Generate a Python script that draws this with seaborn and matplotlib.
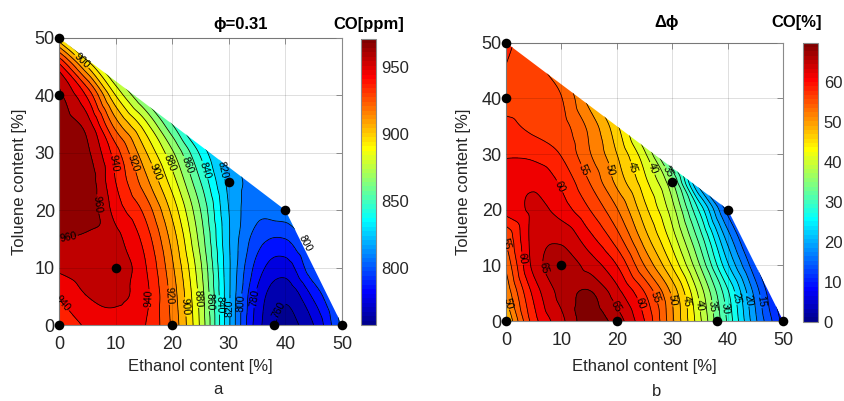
import numpy as np
import matplotlib
matplotlib.use("Agg")
import matplotlib.pyplot as plt
import matplotlib.tri as mtri
from matplotlib.patches import Polygon
from matplotlib.colors import Normalize, ListedColormap
from matplotlib.cm import ScalarMappable
import seaborn as sns

# ---------------------------------------------------------------- data
# response surfaces sampled on a 5 % grid (rows: toluene, cols: ethanol)
ethanol_grid = [0, 5, 10, 15, 20, 25, 30, 35, 40, 45, 50]
toluene_grid = [0, 5, 10, 15, 20, 25, 30, 35, 40, 45, 50]

# CO emission [ppm] at phi = 0.31
co_ppm = [
    [928, 942, 946, 941, 918, 878, 822, 775, 757, 770, 803],
    [941, 950, 952, 944, 916, 876, 822, 778, 762, 782, 808],
    [952, 955, 957, 942, 912, 872, 822, 786, 775, 798, 810],
    [960, 958, 953, 937, 906, 866, 821, 795, 790, 806, 810],
    [965, 966, 946, 928, 897, 860, 820, 803, 805, 808, 810],
    [968, 966, 940, 915, 885, 850, 817, 807, 806, 807, 808],
    [969, 962, 935, 903, 872, 838, 812, 807, 806, 806, 806],
    [967, 955, 915, 885, 850, 818, 805, 804, 804, 804, 805],
    [963, 938, 890, 857, 825, 805, 800, 802, 803, 803, 804],
    [945, 900, 860, 830, 805, 795, 795, 800, 802, 802, 803],
    [893, 850, 830, 805, 790, 785, 790, 795, 800, 800, 802],
]

# CO change [%] over the delta-phi sweep
co_pct = [
    [47.0, 58.8, 64.3, 68.8, 66.3, 60.0, 50.5, 40.5, 29.5, 18.0, 9.0],
    [50.5, 60.7, 65.8, 67.8, 63.5, 57.6, 49.4, 39.0, 28.0, 16.5, 7.0],
    [53.0, 63.3, 66.3, 64.0, 60.0, 52.4, 44.7, 34.9, 22.9, 13.0, 6.0],
    [55.5, 63.5, 64.4, 60.8, 56.0, 48.6, 41.2, 31.2, 18.8, 10.0, 5.0],
    [61.0, 63.0, 61.3, 57.6, 52.7, 45.8, 38.5, 26.7, 14.0, 8.0, 5.0],
    [61.3, 62.0, 59.5, 55.0, 49.3, 43.3, 35.2, 18.0, 10.0, 6.0, 5.0],
    [59.7, 59.3, 57.3, 52.8, 47.5, 40.5, 28.0, 13.0, 7.0, 5.0, 5.0],
    [58.2, 56.8, 56.0, 51.8, 45.5, 36.0, 22.0, 9.0, 5.0, 5.0, 5.0],
    [56.6, 56.0, 55.1, 49.0, 42.0, 33.0, 18.0, 7.0, 5.0, 5.0, 5.0],
    [57.4, 55.6, 53.5, 47.0, 40.0, 30.0, 15.0, 6.0, 5.0, 5.0, 5.0],
    [58.2, 55.5, 52.0, 45.0, 38.0, 28.0, 12.0, 5.0, 5.0, 5.0, 5.0],
]

# feasible blend region
domain_ethanol = [0, 0, 40, 50]
domain_toluene = [0, 50, 20, 0]

# measured blends
sample_ethanol = [0, 0, 0, 10, 20, 30, 40, 38, 50]
sample_toluene = [50, 40, 0, 10, 0, 25, 20, 0, 0]

# contour label anchors (ethanol, toluene)
ppm_label_pos = [(3.7, 45.6), (9.9, 28.2), (13.1, 28.2), (16.7, 26.5), (19.3, 28.2),
                 (22.6, 27.9), (25.8, 27.0), (28.7, 27.0), (7.8, 21.2), (2.3, 12.7),
                 (1.4, 4.4), (15.7, 4.6), (19.5, 5.2), (22.8, 3.2), (24.9, 4.7),
                 (26.7, 4.1), (28.4, 3.5), (30.2, 3.0), (32.3, 3.8), (34.6, 4.7),
                 (37.8, 3.0), (42.0, 13.4)]
pct_label_pos = [(13.9, 27.1), (18.4, 27.1), (22.7, 27.5), (26.6, 27.5), (29.6, 27.0),
                 (9.7, 24.2), (0.4, 14.5), (3.1, 11.3), (6.4, 9.5), (0.4, 3.2),
                 (20.4, 2.9), (24.5, 3.2), (27.2, 4.4), (29.9, 3.8), (32.5, 3.5),
                 (35.0, 2.9), (37.5, 2.6), (39.8, 2.3), (41.3, 4.1), (43.6, 3.8),
                 (45.8, 3.5)]


# ---------------------------------------------------------------- colormap
def classic_jet(n=64):
    """Piecewise-linear jet with n entries (blue -> cyan -> yellow -> red)."""
    m = int(np.ceil(n / 4))
    u = np.concatenate([np.arange(1, m + 1) / m, np.ones(m - 1), np.arange(m, 0, -1) / m])
    g = int(np.ceil(m / 2)) - int(n % 4 == 1) + np.arange(1, len(u) + 1)
    r = g + m
    b = g - m
    g = g[g <= n]
    r = r[r <= n]
    b = b[b >= 1]
    rgb = np.zeros((n, 3))
    rgb[r - 1, 0] = u[:len(r)]
    rgb[g - 1, 1] = u[:len(g)]
    rgb[b - 1, 2] = u[len(u) - len(b):]
    return ListedColormap(rgb, name="classic_jet")


# ---------------------------------------------------------------- style
sns.set_style("white")
plt.rcParams["font.family"] = ["Liberation Sans", "DejaVu Sans"]
plt.rcParams["axes.unicode_minus"] = False

cmap = classic_jet(64)
frame_col = "#8a8a8a"

fig = plt.figure(figsize=(8.45, 4.01), dpi=100)


def smooth_surface(values):
    ex, to = np.meshgrid(ethanol_grid, toluene_grid)
    tri = mtri.Triangulation(ex.ravel().astype(float), to.ravel().astype(float))
    z = np.asarray(values, dtype=float).ravel()
    interp = mtri.CubicTriInterpolator(tri, z, kind="geom")
    refiner = mtri.UniformTriRefiner(tri)
    return refiner.refine_field(z, triinterpolator=interp, subdiv=4)


def draw_panel(ax, cax, values, norm, fill_levels, line_levels, label_levels,
               label_pos, cbar_ticks):
    rtri, rz = smooth_surface(values)
    clip = Polygon(np.column_stack([domain_ethanol, domain_toluene]), closed=True,
                   facecolor="none", edgecolor="none", transform=ax.transData)
    ax.add_patch(clip)

    plain_levels = [v for v in line_levels
                    if not np.any(np.isclose(v, label_levels))]
    cf = ax.tricontourf(rtri, rz, levels=fill_levels, cmap=cmap, norm=norm, zorder=1)
    cl_plain = ax.tricontour(rtri, rz, levels=plain_levels, colors="black",
                             linewidths=0.55, zorder=2)
    cl_lab = ax.tricontour(rtri, rz, levels=label_levels, colors="black",
                           linewidths=0.55, zorder=2)
    for c in (cf, cl_plain, cl_lab):
        c.set_clip_path(clip)
    texts = ax.clabel(cl_lab, manual=label_pos, inline=True, inline_spacing=1,
                      fontsize=7.5, fmt="%g", colors="black")
    for t in texts:
        t.set_zorder(3)

    sns.scatterplot(x=sample_ethanol, y=sample_toluene, ax=ax, color="black",
                    s=48, linewidth=0, zorder=6, clip_on=False, legend=False)

    ax.set_xlim(0, 50)
    ax.set_ylim(0, 50)
    ax.set_xticks(range(0, 51, 10))
    ax.set_yticks(range(0, 51, 10))
    ax.set_axisbelow(False)
    ax.grid(True, color="black", alpha=0.13, linewidth=0.7)
    ax.tick_params(direction="in", length=4, width=0.7, colors=frame_col,
                   labelcolor="#262626", labelsize=13, top=True, right=True)
    ax.tick_params(axis="x", pad=8)
    ax.tick_params(axis="y", pad=3)
    for s in ax.spines.values():
        s.set_color(frame_col)
        s.set_linewidth(0.8)
        s.set_visible(True)

    ax.set_xlabel("Ethanol content [%]", fontsize=12, color="#262626", va="center")
    ax.set_ylabel("Toluene content [%]", fontsize=12, color="#262626", va="center")

    cb = fig.colorbar(ScalarMappable(norm=norm, cmap=cmap), cax=cax)
    cb.set_ticks(cbar_ticks)
    cb.outline.set_edgecolor(frame_col)
    cb.outline.set_linewidth(0.8)
    cax.tick_params(direction="in", length=3, width=0.7, colors=frame_col,
                    labelcolor="#262626", labelsize=12, pad=4)
    return cb


# ---------------------------------------------------------------- panel a
ax1 = fig.add_axes([59 / 845, 1 - 325 / 401, 283 / 845, 287 / 401])
cax1 = fig.add_axes([361 / 845, 1 - 325 / 401, 15 / 845, 286 / 401])
draw_panel(ax1, cax1, co_ppm, Normalize(757, 971),
           np.arange(750, 981, 10), np.arange(760, 971, 10),
           np.arange(760, 961, 20), ppm_label_pos, [800, 850, 900, 950])
ax1.xaxis.set_label_coords(0.5, -0.146)
ax1.yaxis.set_label_coords(-0.141, 0.5)

# ---------------------------------------------------------------- panel b
ax2 = fig.add_axes([506 / 845, 1 - 321 / 401, 277.3 / 845, 278.3 / 401])
cax2 = fig.add_axes([803.3 / 845, 1 - 321.7 / 401, 15 / 845, 279 / 401])
draw_panel(ax2, cax2, co_pct, Normalize(0, 69.7),
           np.arange(0, 72.6, 2.5), np.arange(2.5, 70, 2.5),
           np.arange(15, 66, 5), pct_label_pos, [0, 10, 20, 30, 40, 50, 60])
ax2.xaxis.set_label_coords(0.5, -0.162)
ax2.yaxis.set_label_coords(-0.155, 0.5)

# ---------------------------------------------------------------- headers
title_kw = dict(fontsize=12, fontweight="bold", ha="center", va="center", color="black")
fig.text(241 / 845, 1 - 24 / 401, "ϕ=0.31", **title_kw)
fig.text(369 / 845, 1 - 24 / 401, "CO[ppm]", **title_kw)
fig.text(667 / 845, 1 - 23 / 401, "Δϕ", **title_kw)
fig.text(797 / 845, 1 - 23 / 401, "CO[%]", **title_kw)

fig.text(218 / 845, 1 - 390 / 401, "a", fontsize=12, ha="center", va="center", color="#262626")
fig.text(657 / 845, 1 - 392 / 401, "b", fontsize=12, ha="center", va="center", color="#262626")

fig.savefig("out.png", dpi=100, facecolor="white")
